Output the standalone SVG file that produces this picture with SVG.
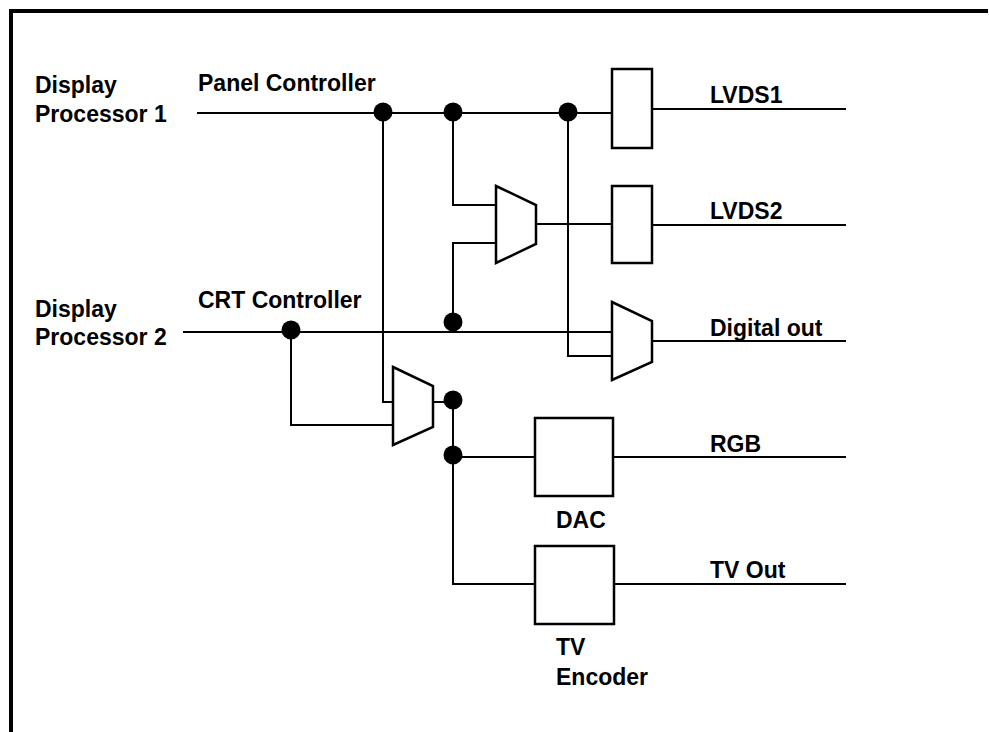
<svg xmlns="http://www.w3.org/2000/svg" width="989" height="732" viewBox="0 0 989 732">
<style>
.w{stroke:#000;stroke-width:2;fill:none}
.b{stroke:#000;stroke-width:2.5;fill:#fff}
.d{fill:#000}
text{font-family:"Liberation Sans",Arial,sans-serif;font-weight:bold;font-size:23px;fill:#000}
</style>
<rect width="989" height="732" fill="#fff"/>
<path d="M11 732 V11 H988" stroke="#000" stroke-width="4" fill="none"/>
<g id="connectors">
<path class="w" d="M197 113 H615"/>
<path class="w" d="M183 332 H612"/>
<path class="w" d="M383 113 V402 H393"/>
<path class="w" d="M453 113 V205 H496"/>
<path class="w" d="M453 322 V243 H496"/>
<path class="w" d="M536 224 H612"/>
<path class="w" d="M568 113 V356 H612"/>
<path class="w" d="M291 330 V425 H393"/>
<path class="w" d="M433 402 H453 V584 H535"/>
<path class="w" d="M453 457 H535"/>
<path class="w" d="M652 109 H846"/>
<path class="w" d="M652 225 H846"/>
<path class="w" d="M652 341 H846"/>
<path class="w" d="M613 457 H846"/>
<path class="w" d="M614 584 H846"/>
<circle class="d" cx="383" cy="112" r="9.5"/>
<circle class="d" cx="453" cy="112" r="9.5"/>
<circle class="d" cx="568" cy="112" r="9.5"/>
<circle class="d" cx="291" cy="330" r="9.5"/>
<circle class="d" cx="453" cy="322" r="9.5"/>
<circle class="d" cx="453" cy="400" r="9.5"/>
<circle class="d" cx="453" cy="455" r="9.5"/>
</g>
<g id="dp1"><text x="35" y="93">Display</text><text x="35" y="122">Processor 1</text></g>
<g id="dp2"><text x="35" y="317">Display</text><text x="35" y="345">Processor 2</text></g>
<g id="panel"><text x="198" y="91">Panel Controller</text></g>
<g id="crt"><text x="198" y="308">CRT Controller</text></g>
<g id="lvds1"><rect class="b" x="612" y="69" width="40" height="79"/><text x="710" y="103">LVDS1</text></g>
<g id="lvds2"><rect class="b" x="612" y="186" width="40" height="77"/><text x="710" y="219">LVDS2</text></g>
<g id="mux1"><polygon class="b" points="496,186 536,205 536,244 496,263"/></g>
<g id="mux-digital"><polygon class="b" points="612,302 652,321 652,362 612,380"/><text x="710" y="336">Digital out</text></g>
<g id="mux2"><polygon class="b" points="393,367 433,386 433,427 393,445"/></g>
<g id="dac"><rect class="b" x="535" y="418" width="78" height="78"/><text x="556" y="528">DAC</text><text x="710" y="452">RGB</text></g>
<g id="tvenc"><rect class="b" x="535" y="546" width="79" height="78"/><text x="556" y="655">TV</text><text x="556" y="685">Encoder</text><text x="710" y="578">TV Out</text></g>
</svg>
